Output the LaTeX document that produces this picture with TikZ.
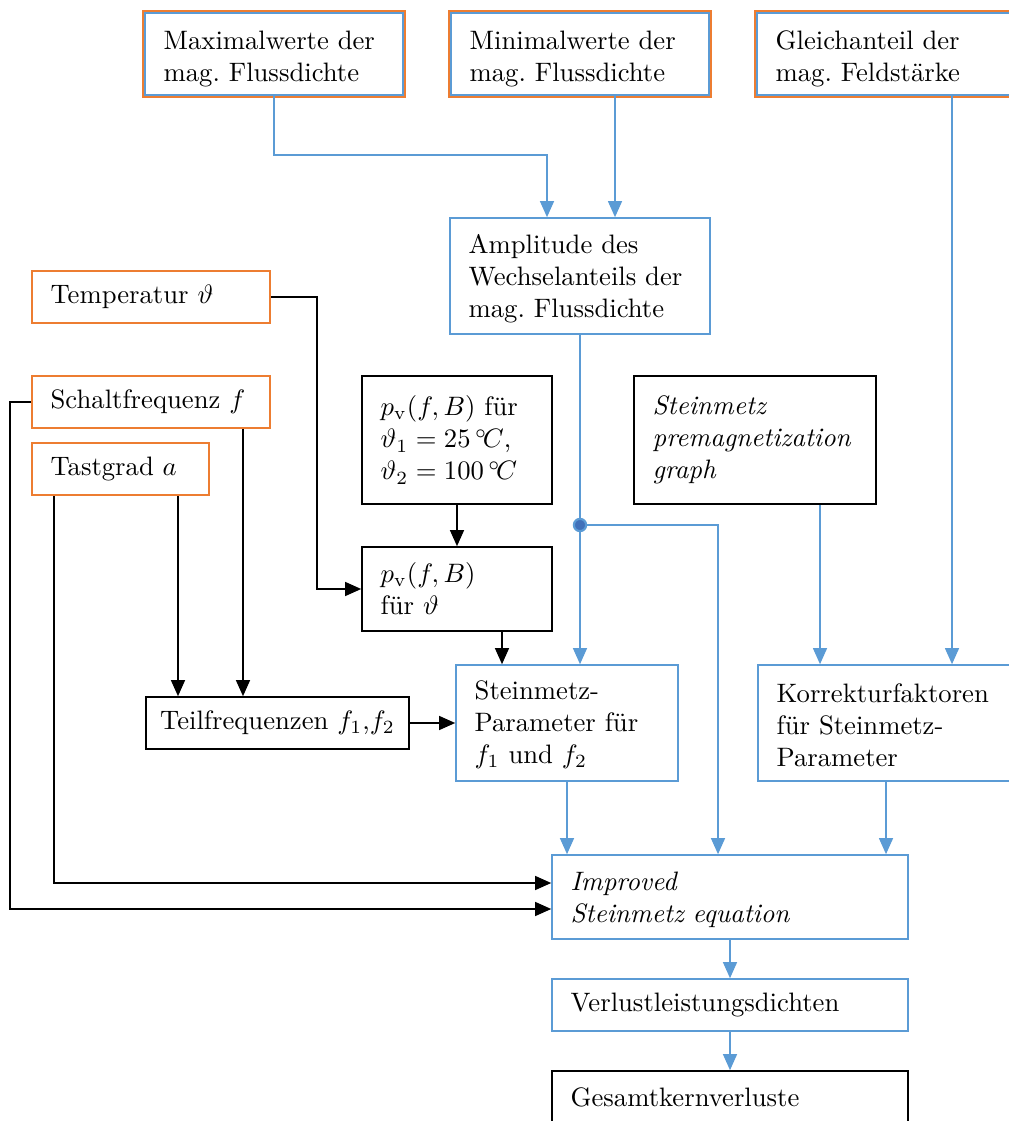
\documentclass[tikz,border=0pt]{standalone}
\usetikzlibrary{arrows.meta,calc}
\definecolor{lblue}{RGB}{91,155,213}
\definecolor{dblue}{RGB}{65,113,186}
\definecolor{lorange}{RGB}{237,125,49}
\frenchspacing
\begin{document}
\begin{tikzpicture}[
  x=0.375pt, y=-0.375pt,
  every node/.style = {
    rectangle,
    align=left,
    inner xsep=7pt,
    inner ysep=2pt,
    line width=0.6pt
  },
  bbox/.style={draw=lblue},
  obox/.style={draw=lorange, line width=0.75pt},
  kbox/.style={draw=black},
  topbox/.style={draw=lblue, fill=white, minimum height=82*0.375pt,
    text width=82.75pt, text height=10.5pt, preaction={draw=lorange, line width=2.3pt}},
  dot/.style={circle, fill=dblue, draw=lblue, line width=0.8pt, inner sep=0pt, minimum size=4.6pt},
  bedge/.style={lblue, line width=0.6pt,
    -{Triangle[length=6pt,width=5.2pt]}},
  kedge/.style={black, line width=0.6pt,
    -{Triangle[length=6pt,width=5.2pt]}}
]
    \useasboundingbox (0,0) rectangle (1008,1121);
    % inputs at the top
    \node[topbox] (maxw)   at (274,54) {Maximalwerte der\\mag. Flussdichte};
    \node[topbox] (minw)   at (580,54) {Minimalwerte der\\mag. Flussdichte};
    \node[topbox] (gleich) at (886,54) {Gleichanteil der\\mag. Feldstärke};
    \node[bbox, text width=83.5pt, text height=9.2pt, minimum height=116*0.375pt] (ampl) at (580,276)
      {Amplitude des\\Wechselanteils der\\mag. Flussdichte};
    % operating point
    \node[obox, text width=75.25pt, minimum height=52*0.375pt] (temp)   at (151,297) {Temperatur $\vartheta$};
    \node[obox, text width=75.25pt, minimum height=52*0.375pt] (schalt) at (151,402) {Schaltfrequenz $f$};
    \node[obox, text width=52.4pt, minimum height=52*0.375pt]  (tast)   at (120.5,469) {Tastgrad $a$};
    % material data
    \node[kbox, text width=57.25pt, minimum height=128*0.375pt] (pvzwei) at (457,440)
      {$p_\mathrm{v}(f,B)$ für\\$\vartheta_1=25\,{}^{\circ}\!C$,\\$\vartheta_2=100\,{}^{\circ}\!C$};
    \node[kbox, text width=76.75pt, minimum height=128*0.375pt] (stgraph) at (755,440)
      {\itshape Steinmetz\\premagnetization\\graph};
    \node[kbox, text width=57.25pt, minimum height=84*0.375pt] (pvtheta) at (457,589)
      {$p_\mathrm{v}(f,B)$\\für $\vartheta$};
    \node[kbox, inner xsep=4pt, minimum width=263*0.375pt, minimum height=52*0.375pt] (teil) at (277.5,723)
      {Teilfrequenzen $f_1$,$f_2$};
    \node[bbox, text width=69.25pt, text height=8.5pt, minimum height=116*0.375pt] (stpar) at (567,723)
      {Steinmetz-\\Parameter für\\$f_1$ und $f_2$};
    \node[bbox, text width=82pt, text height=8.5pt, minimum height=116*0.375pt] (korr) at (886,723)
      {Korrekturfaktoren\\für Steinmetz-\\Parameter};
    % results
    \node[bbox, text width=119.5pt, text height=9.2pt, minimum height=84*0.375pt] (ise) at (730,897)
      {\itshape Improved\\Steinmetz equation};
    \node[bbox, text width=119.5pt, minimum height=52*0.375pt] (verl) at (730,1005)
      {Verlustleistungsdichten};
    \node[kbox, text width=119.5pt, minimum height=52*0.375pt] (gesamt) at (730,1097)
      {Gesamtkernverluste};
    \coordinate (split) at (580,525);
    \coordinate (pvout) at ($(pvtheta.south)+(45,0)$);

    % blue connectors
    \draw[bedge] (maxw.south) -- ++(0,59) -| ($(ampl.north)+(-33,0)$);
    \draw[bedge] ($(minw.south)+(35,0)$) -- ($(ampl.north)+(35,0)$);
    \draw[bedge] ($(gleich.south)+(66,0)$) -- ($(korr.north)+(66,0)$);
    \draw[lblue, line width=0.6pt] (ampl.south) -- (split);
    \draw[bedge] (split) -- (split |- stpar.north);
    \draw[bedge] (split) -| ($(ise.north)+(-12,0)$);
    \draw[bedge] ($(stgraph.south)+(65,0)$) -- ($(korr.north)+(-66,0)$);
    \draw[bedge] (stpar.south) -- (stpar.south |- ise.north);
    \draw[bedge] (korr.south) -- (korr.south |- ise.north);
    \draw[bedge] (ise) -- (verl);
    \draw[bedge] (verl) -- (gesamt);
    \node[dot] (splitdot) at (split) {};

    % black connectors
    \draw[kedge] (temp.east) -- ++(46,0) |- (pvtheta.west);
    \draw[kedge] (pvzwei) -- (pvtheta);
    \draw[kedge] (pvout) -- (pvout |- stpar.north);
    \draw[kedge] ($(schalt.south)+(92,0)$) -- ($(teil.north)+(-34.5,0)$);
    \draw[kedge] ($(tast.south)+(57.5,0)$) -- ($(teil.north)+(-99.5,0)$);
    \draw[kedge] ($(tast.south)+(-66.5,0)$) |- ($(ise.west)+(0,-14)$);
    \draw[kedge] (schalt.west) -- ++(-21,0) |- ($(ise.west)+(0,12)$);
    \draw[kedge] (teil) -- (stpar);
\end{tikzpicture}
\end{document}
